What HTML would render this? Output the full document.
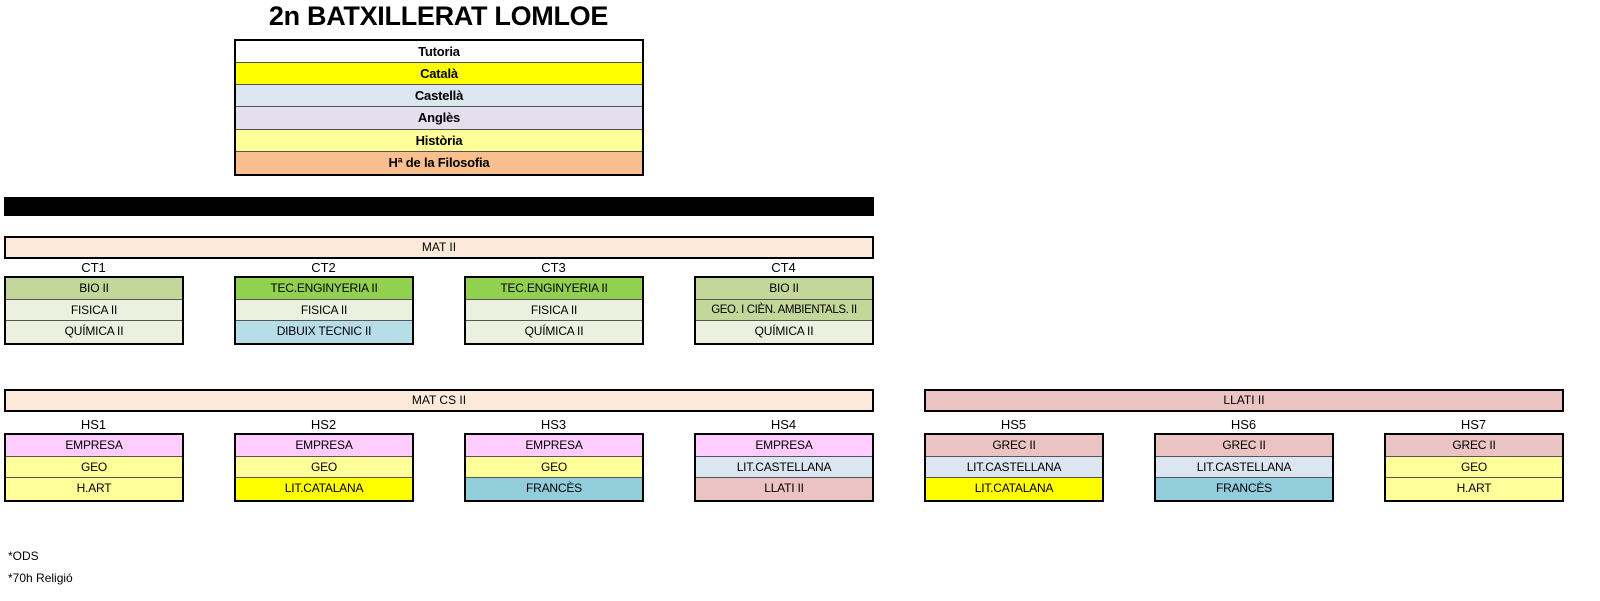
<!DOCTYPE html>
<html><head><meta charset="utf-8"><style>
*{margin:0;padding:0;box-sizing:border-box}
body{width:1600px;height:601px;background:#fff;position:relative;overflow:hidden;font-family:"Liberation Sans",Arial,sans-serif;color:#000}
.a{position:absolute}
.t{position:absolute;font-size:27px;font-weight:bold;left:200px;width:477px;text-align:center;top:1px;letter-spacing:-0.3px}
.box{position:absolute;border:2px solid #000;background:#fff;overflow:hidden}
.r{height:21.67px;line-height:20px;text-align:center;font-size:12px;border-bottom:1px solid #555;white-space:nowrap;letter-spacing:-0.2px}
.r:last-child{border-bottom:none}
.m .r{font-weight:bold;font-size:13px;height:22.17px;line-height:21px}
.bar{position:absolute;height:23px;border:2px solid #000;background:#fde9d9;text-align:center;font-size:12px;line-height:19px}
.lb{position:absolute;width:179px;text-align:center;font-size:13px}
.n{position:absolute;left:8px;font-size:12px}
</style></head><body>
<div class="t">2n BATXILLERAT LOMLOE</div>
<div class="box m" style="left:234px;top:39px;width:410px;height:137px">
<div class="r" style="background:#fff">Tutoria</div>
<div class="r" style="background:#ffff00">Català</div>
<div class="r" style="background:#dce6f1">Castellà</div>
<div class="r" style="background:#e4dfec">Anglès</div>
<div class="r" style="background:#ffff99">Història</div>
<div class="r" style="background:#f9bf8f">Hª de la Filosofia</div>
</div>
<div class="a" style="left:4px;top:197px;width:870px;height:19px;background:#000"></div>

<div class="bar" style="left:4px;top:236px;width:870px">MAT II</div>

<div class="lb" style="left:4px;top:260px">CT1</div>
<div class="lb" style="left:234px;top:260px">CT2</div>
<div class="lb" style="left:464px;top:260px">CT3</div>
<div class="lb" style="left:694px;top:260px">CT4</div>

<div class="box" style="left:4px;top:276px;width:180px;height:69px"><div class="r" style="background:#c4d79b">BIO II</div><div class="r" style="background:#ebf1de">FISICA II</div><div class="r" style="background:#ebf1de">QUÍMICA II</div></div>
<div class="box" style="left:234px;top:276px;width:180px;height:69px"><div class="r" style="background:#92d050">TEC.ENGINYERIA II</div><div class="r" style="background:#ebf1de">FISICA II</div><div class="r" style="background:#b7dee8">DIBUIX TECNIC II</div></div>
<div class="box" style="left:464px;top:276px;width:180px;height:69px"><div class="r" style="background:#92d050">TEC.ENGINYERIA II</div><div class="r" style="background:#ebf1de">FISICA II</div><div class="r" style="background:#ebf1de">QUÍMICA II</div></div>
<div class="box" style="left:694px;top:276px;width:180px;height:69px"><div class="r" style="background:#c4d79b">BIO II</div><div class="r" style="background:#c4d79b;font-size:11.5px;letter-spacing:-0.4px">GEO. I CIÈN. AMBIENTALS. II</div><div class="r" style="background:#ebf1de">QUÍMICA II</div></div>

<div class="bar" style="left:4px;top:389px;width:870px">MAT CS II</div>
<div class="bar" style="left:924px;top:389px;width:640px;background:#ebc3c2">LLATI II</div>

<div class="lb" style="left:4px;top:417px">HS1</div>
<div class="lb" style="left:234px;top:417px">HS2</div>
<div class="lb" style="left:464px;top:417px">HS3</div>
<div class="lb" style="left:694px;top:417px">HS4</div>
<div class="lb" style="left:924px;top:417px">HS5</div>
<div class="lb" style="left:1154px;top:417px">HS6</div>
<div class="lb" style="left:1384px;top:417px">HS7</div>

<div class="box" style="left:4px;top:433px;width:180px;height:69px"><div class="r" style="background:#ffccff">EMPRESA</div><div class="r" style="background:#ffff99">GEO</div><div class="r" style="background:#ffff99">H.ART</div></div>
<div class="box" style="left:234px;top:433px;width:180px;height:69px"><div class="r" style="background:#ffccff">EMPRESA</div><div class="r" style="background:#ffff99">GEO</div><div class="r" style="background:#ffff00">LIT.CATALANA</div></div>
<div class="box" style="left:464px;top:433px;width:180px;height:69px"><div class="r" style="background:#ffccff">EMPRESA</div><div class="r" style="background:#ffff99">GEO</div><div class="r" style="background:#92cddc">FRANCÈS</div></div>
<div class="box" style="left:694px;top:433px;width:180px;height:69px"><div class="r" style="background:#ffccff">EMPRESA</div><div class="r" style="background:#dce6f1">LIT.CASTELLANA</div><div class="r" style="background:#ebc3c2">LLATI II</div></div>
<div class="box" style="left:924px;top:433px;width:180px;height:69px"><div class="r" style="background:#ebc3c2">GREC II</div><div class="r" style="background:#dce6f1">LIT.CASTELLANA</div><div class="r" style="background:#ffff00">LIT.CATALANA</div></div>
<div class="box" style="left:1154px;top:433px;width:180px;height:69px"><div class="r" style="background:#ebc3c2">GREC II</div><div class="r" style="background:#dce6f1">LIT.CASTELLANA</div><div class="r" style="background:#92cddc">FRANCÈS</div></div>
<div class="box" style="left:1384px;top:433px;width:180px;height:69px"><div class="r" style="background:#ebc3c2">GREC II</div><div class="r" style="background:#ffff99">GEO</div><div class="r" style="background:#ffff99">H.ART</div></div>

<div class="n" style="top:549px">*ODS</div>
<div class="n" style="top:571px">*70h Religió</div>
</body></html>
